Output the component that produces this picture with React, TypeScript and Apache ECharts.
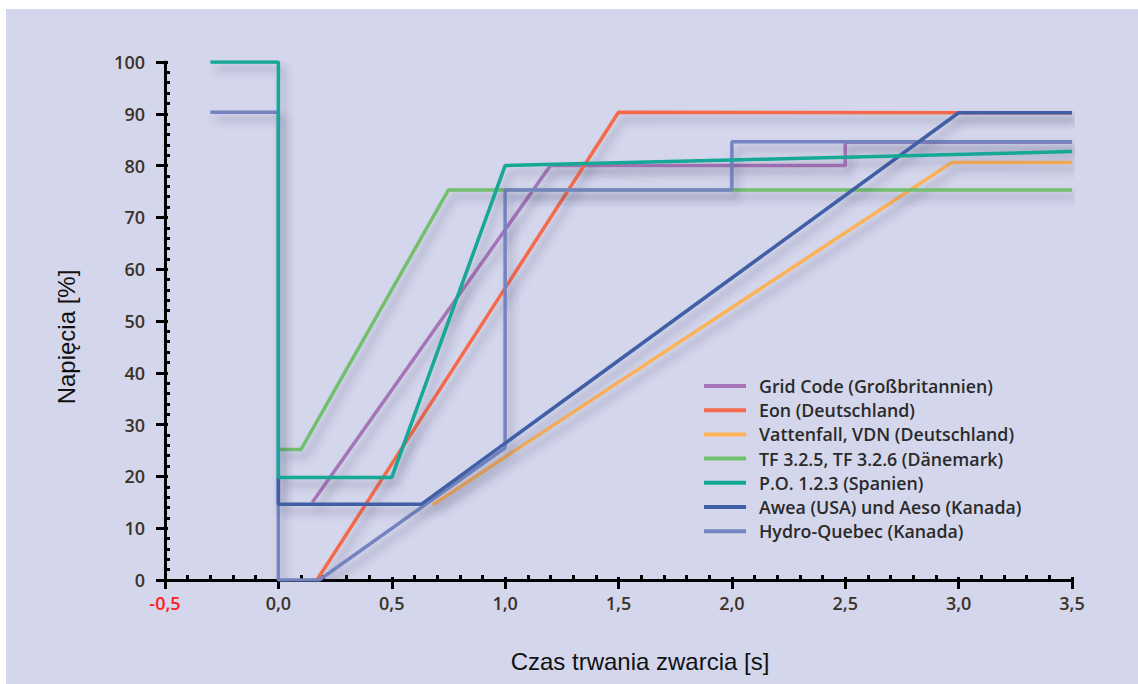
import React, { useEffect, useRef } from "react";
import * as echarts from "echarts";

const xTicks = [-0.5, 0, 0.5, 1, 1.5, 2, 2.5, 3, 3.5];
const yTicks = [0, 10, 20, 30, 40, 50, 60, 70, 80, 90, 100];

const seriesNames = [
  "Grid Code (Großbritannien)",
  "Eon (Deutschland)",
  "Vattenfall, VDN (Deutschland)",
  "TF 3.2.5, TF 3.2.6 (Dänemark)",
  "P.O. 1.2.3 (Spanien)",
  "Awea (USA) und Aeso (Kanada)",
  "Hydro-Quebec (Kanada)",
];

const gridCode = [[0.15, 15], [1.2, 80], [2.5, 80], [2.5, 84.5], [3.5, 84.5]];
const eon = [[0.17, 0], [1.5, 90.3], [3.5, 90.2]];
const vattenfall = [[0.68, 14.5], [2.97, 80.6], [3.5, 80.6]];
const tf = [[0, 25.2], [0.1, 25.2], [0.75, 75.3], [3.5, 75.3]];
const po = [[-0.3, 100], [0, 100], [0, 19.8], [0.5, 19.8], [1.0, 80], [3.5, 82.7]];
const awea = [[0, 19.8], [0, 14.6], [0.63, 14.6], [3.0, 90.2], [3.5, 90.2]];
const hydro = [[-0.3, 90.3], [0, 90.3], [0, 0], [0.18, 0], [1.0, 25.5], [1.0, 75.3], [2.0, 75.3], [2.0, 84.6], [3.5, 84.6]];

const colors: Record<string, string> = {
  [seriesNames[0]]: "#a674b8",
  [seriesNames[1]]: "#f46a4c",
  [seriesNames[2]]: "#fdb257",
  [seriesNames[3]]: "#72c06e",
  [seriesNames[4]]: "#12a895",
  [seriesNames[5]]: "#3f5fa6",
  [seriesNames[6]]: "#7484c0",
};

const dataByName: Record<string, number[][]> = {
  [seriesNames[0]]: gridCode,
  [seriesNames[1]]: eon,
  [seriesNames[2]]: vattenfall,
  [seriesNames[3]]: tf,
  [seriesNames[4]]: po,
  [seriesNames[5]]: awea,
  [seriesNames[6]]: hydro,
};

// drawing order (back to front)
const drawOrder = [0, 1, 2, 3, 6, 5, 4];

const GRID = { left: 165, right: 66, top: 62, bottom: 104 };
const W = 1138, H = 684;
const plotW = W - GRID.left - GRID.right;
const plotH = H - GRID.top - GRID.bottom;

export default function App() {
  const ref = useRef<HTMLDivElement>(null);
  useEffect(() => {
    document.body.style.margin = "0";
    const chart = echarts.init(ref.current!, undefined, { renderer: "svg" });
    const tickFont = { fontFamily: "Open Sans", fontSize: 18, fontWeight: 600, color: "#3a3228" };
    chart.setOption({
      animation: false,
      backgroundColor: "transparent",
      grid: GRID,
      xAxis: [
        {
          type: "value",
          min: xTicks[0],
          max: xTicks[xTicks.length - 1],
          interval: 0.5,
          axisLine: { onZero: false, lineStyle: { color: "#000", width: 3 } },
          axisTick: { show: true, length: 9, lineStyle: { color: "#000", width: 3 } },
          minorTick: { show: false },
          splitLine: { show: false },
          axisLabel: {
            margin: 14,
            ...tickFont,
            color: (v: any) => (Number(v) < 0 ? "#ff2020" : "#3a3228"),
            formatter: (v: number) => v.toFixed(1).replace(".", ","),
          },
        },
        {
          type: "value",
          min: xTicks[0],
          max: xTicks[xTicks.length - 1],
          interval: 0.5,
          position: "top",
          offset: -plotH,
          axisLine: { show: false, onZero: false },
          axisTick: { show: true, length: 3, lineStyle: { color: "#000", width: 3 } },
          minorTick: { show: true, splitNumber: 5, length: 5, lineStyle: { color: "#000", width: 3 } },
          splitLine: { show: false },
          axisLabel: { show: false },
        },
      ],
      yAxis: [
        {
          type: "value",
          min: yTicks[0],
          max: yTicks[yTicks.length - 1],
          interval: 10,
          axisLine: { show: true, onZero: false, lineStyle: { color: "#000", width: 3 } },
          axisTick: { show: true, length: 9, lineStyle: { color: "#000", width: 3 } },
          splitLine: { show: false },
          axisLabel: { margin: 20, ...tickFont, formatter: (v: number) => String(v) },
        },
        {
          type: "value",
          min: yTicks[0],
          max: yTicks[yTicks.length - 1],
          interval: 10,
          position: "right",
          offset: -plotW,
          axisLine: { show: false, onZero: false },
          axisTick: { show: true, length: 3, lineStyle: { color: "#000", width: 3 } },
          minorTick: { show: true, splitNumber: 5, length: 5, lineStyle: { color: "#000", width: 3 } },
          splitLine: { show: false },
          axisLabel: { show: false },
        },
      ],
      legend: {
        orient: "vertical",
        left: 699,
        top: 372,
        itemWidth: 42,
        itemHeight: 4,
        itemGap: 6.2,
        itemStyle: { borderWidth: 0 },
        icon: "rect",
        data: seriesNames,
        textStyle: {
          fontFamily: "Open Sans",
          fontSize: 17.8,
          lineHeight: 18,
          fontWeight: 600,
          color: "#2a2a2a",
          padding: [0, 0, 0, 8],
        },
      },
      graphic: [
        {
          type: "text",
          x: 640,
          y: 661,
          style: {
            text: "Czas trwania zwarcia [s]",
            fontFamily: "Liberation Sans",
            fontSize: 24,
            fill: "#111",
            align: "center",
            verticalAlign: "middle",
          },
        },
        {
          type: "text",
          x: 66,
          y: 337,
          rotation: Math.PI / 2,
          style: {
            text: "Napięcia [%]",
            fontFamily: "Liberation Sans",
            fontSize: 24,
            fill: "#111",
            align: "center",
            verticalAlign: "middle",
          },
        },
      ],
      series: drawOrder.map((i) => {
        const name = seriesNames[i];
        return {
          name,
          type: "line",
          data: dataByName[name],
          showSymbol: false,
          symbol: "none",
          color: colors[name],
          lineStyle: {
            width: 3.5,
            color: colors[name],
            shadowColor: "rgba(60,60,100,0.35)",
            shadowBlur: 8,
            shadowOffsetX: 5,
            shadowOffsetY: 7,
          },
          z: 2 + drawOrder.indexOf(i),
        };
      }),
    });
    return () => chart.dispose();
  }, []);
  return (
    <div style={{ position: "relative", width: W, height: H, background: "#fff" }}>
      <div style={{ position: "absolute", left: 6, top: 9, right: 0, bottom: 0, background: "#d4d6ec" }} />
      <div ref={ref} style={{ position: "absolute", left: 0, top: 0, width: W, height: H }} />
    </div>
  );
}
